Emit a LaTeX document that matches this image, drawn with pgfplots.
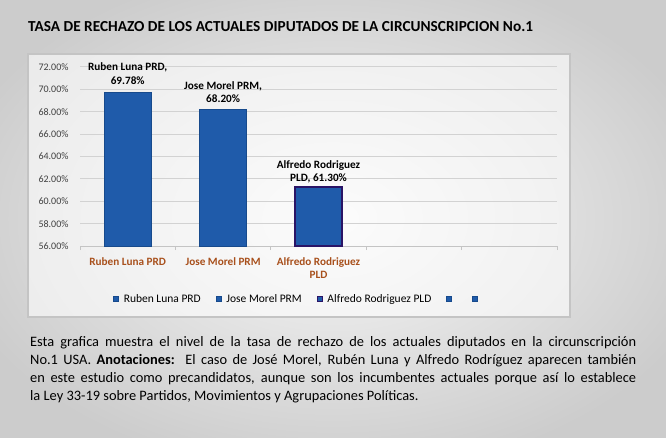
\documentclass[border=0pt]{standalone}
\usepackage{pgfplots}
\pgfplotsset{compat=1.18}
\usepackage{fontspec}
\setmainfont{Carlito}
\definecolor{barblue}{HTML}{1F5BAA}
\definecolor{baredge}{HTML}{174A8C}
\definecolor{bar3edge}{HTML}{2A1466}
\definecolor{catorange}{HTML}{A8501C}
\definecolor{gridgray}{HTML}{D2D2D2}
\definecolor{boxgray}{HTML}{C4C4C4}
\begin{document}
\begin{tikzpicture}[x=1pt,y=1pt]
\path[use as bounding box] (0,0) rectangle (666,437);
\begin{scope}
\clip (0,0) rectangle (666,437);
\shade[inner color=gray!6, outer color=gray!40] (-60,-40) rectangle (726,477);
\end{scope}
% chart box
\fill[white,opacity=0.6] (28,120) rectangle (570,383);
\draw[boxgray,line width=1.2pt] (28,120) rectangle (570,383);
% title
\node[anchor=west,inner sep=0pt,font=\fontsize{15.3}{17}\selectfont\bfseries] at (28,410) {TASA DE RECHAZO DE LOS ACTUALES DIPUTADOS DE LA CIRCUNSCRIPCION No.1};
\begin{axis}[
  at={(80pt,191pt)}, anchor=south west,
  scale only axis, width=477pt, height=179pt,
  xmin=-0.5, xmax=4.5, ymin=56, ymax=72,
  ytick={56,58,...,72},
  yticklabel={\pgfmathprintnumber[fixed,fixed zerofill,precision=2]{\tick}\%},
  /pgf/number format/assume math mode=true,
  yticklabel style={font=\fontsize{10}{12}\selectfont, text=black!75, xshift=-4pt},
  ytick style={draw=none},
  ymajorgrids, grid style={gridgray, line width=1pt},
  axis x line=bottom, axis y line=left,
  x axis line style={-, draw=boxgray, line width=1pt},
  y axis line style={draw=none},
  xtick={-0.5,0.5,...,4.5}, xticklabels={},
  xtick style={draw=boxgray, line width=1pt},
  major tick length=4pt, tick align=outside,
  extra x ticks={0,1,2},
  extra x tick labels={Ruben Luna PRD, Jose Morel PRM, {Alfredo Rodriguez\\PLD}},
  extra x tick style={major tick length=0pt, tick style={draw=none},
     xticklabel style={font=\fontsize{11.2}{13}\selectfont\bfseries, text=catorange, align=center, yshift=-8pt}},
  ybar, bar width=47pt,
  legend columns=-1,
  legend style={at={(0.459,-0.296)}, anchor=center, draw=none, fill=none,
     font=\fontsize{11.5}{13}\selectfont,
     /tikz/every even column/.append style={column sep=13pt},
     /tikz/every odd column/.append style={column sep=3pt}},
  legend image code/.code={\draw[#1,line width=0.7pt] (0pt,-2.5pt) rectangle (5pt,2.5pt);},
  clip=false,
]
\addplot[bar shift=0pt, fill=barblue, draw=baredge, line width=0.6pt] coordinates {(0,69.78)};
\addlegendentry{Ruben Luna PRD}
\addplot[bar shift=0pt, fill=barblue, draw=baredge, line width=0.6pt] coordinates {(1,68.20)};
\addlegendentry{Jose Morel PRM}
\addplot[bar shift=0pt, fill=barblue, draw=bar3edge, line width=1.8pt] coordinates {(2,61.30)};
\addlegendentry{Alfredo Rodriguez PLD}
\addlegendimage{fill=barblue, draw=baredge}
\addlegendentry{\mbox{}}
\addlegendimage{fill=barblue, draw=baredge}
\addlegendentry{\mbox{}}
\node[anchor=south, align=center, font=\fontsize{11.2}{13.5}\selectfont\bfseries, yshift=4pt] at (axis cs:0,69.78) {Ruben Luna PRD,\\69.78\%};
\node[anchor=south, align=center, font=\fontsize{11.2}{13.5}\selectfont\bfseries, yshift=3pt] at (axis cs:1,68.20) {Jose Morel PRM,\\68.20\%};
\node[anchor=south, align=center, font=\fontsize{11.2}{13.5}\selectfont\bfseries, yshift=0pt] at (axis cs:2,61.30) {Alfredo Rodriguez\\PLD, 61.30\%};
\end{axis}
% caption
\node[anchor=north west, inner sep=0pt, align=left, font=\fontsize{14.4}{18}\selectfont] at (30,101) {%
\makebox[606pt][s]{Esta grafica muestra el nivel de la tasa de rechazo de los actuales diputados en la circunscripción}\\
\makebox[606pt][s]{No.1 USA. \textbf{Anotaciones:}\ \ El caso de José Morel, Rubén Luna y Alfredo Rodríguez aparecen también}\\
\makebox[606pt][s]{en este estudio como precandidatos, aunque son los incumbentes actuales porque así lo establece}\\
la Ley 33-19 sobre Partidos, Movimientos y Agrupaciones Políticas.};
\end{tikzpicture}
\end{document}
